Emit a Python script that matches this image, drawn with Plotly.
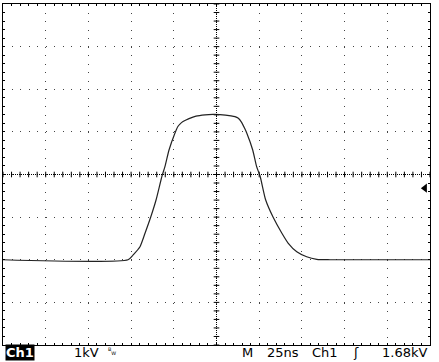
import numpy as np
import plotly.graph_objects as go

# Waveform (time in ns, voltage in kV, ground at 0 kV)
time_ns = [-125, -51.8, -48.9, -44.8, -41.8, -38.5, -35.4, -31.9, -30.2, -27.8,
           -24.3, -22.7, -21.4, -19.6, -16.1, -12.0, -6.7, -2.0, 2.0, 8.5,
           10.8, 12.6, 14.6, 16.4, 17.7, 21.2, 23.5, 25.5, 28.8, 33.1,
           38.2, 41.9, 47.0, 52.8, 58.7, 66.5, 125]
volt_kv = [0, 0, 0.11, 0.305, 0.627, 1.002, 1.401, 1.965, 2.183, 2.575,
           2.974, 3.120, 3.183, 3.242, 3.312, 3.371, 3.401, 3.410, 3.406, 3.376,
           3.357, 3.324, 3.230, 3.089, 2.974, 2.575, 2.183, 1.965, 1.401, 1.002,
           0.627, 0.392, 0.188, 0.07, 0.01, 0, 0]

# Scope settings
ns_per_div = 25
kv_per_div = 1
trigger_level_kv = 1.68
x_range = [-5 * ns_per_div, 5 * ns_per_div]
y_range = [-2 * kv_per_div, 6 * kv_per_div]
x_center = 0
y_center = 2

status_texts = ["1kV", "M", "25ns", "Ch1", "ʃ", f"{trigger_level_kv:.2f}kV"]

W, H = 439, 362
L, R, T, B = 3, 9, 4, 17
pw, ph = W - L - R, H - T - B

fig = go.Figure()

# center crosshair ticks
xt = np.arange(x_range[0], x_range[1] + 0.01, ns_per_div / 5)
yt = np.arange(y_range[0], y_range[1] + 0.001, kv_per_div / 5)
fig.add_trace(go.Scatter(x=xt, y=[y_center] * len(xt), mode="markers",
                         marker=dict(symbol="line-ns", size=4,
                                     line=dict(width=1, color="#000")),
                         hoverinfo="skip", showlegend=False))
fig.add_trace(go.Scatter(x=[x_center] * len(yt), y=yt, mode="markers",
                         marker=dict(symbol="line-ew", size=4,
                                     line=dict(width=1, color="#000")),
                         hoverinfo="skip", showlegend=False))

# waveform
fig.add_trace(go.Scatter(x=time_ns, y=volt_kv, mode="lines",
                         line=dict(color="#222", width=1.2, shape="spline",
                                   smoothing=0.6),
                         hoverinfo="skip", showlegend=False))

# trigger level marker
fig.add_trace(go.Scatter(x=[x_range[1] - 3], y=[trigger_level_kv], mode="markers",
                         marker=dict(symbol="triangle-left", size=8, color="#000"),
                         hoverinfo="skip", showlegend=False))

fig.add_shape(type="line", x0=x_center, x1=x_center, y0=y_range[0], y1=y_range[1],
              line=dict(color="#000", width=1, dash="1px,1px"))
fig.add_shape(type="line", x0=x_range[0], x1=x_range[1], y0=y_center, y1=y_center,
              line=dict(color="#000", width=1, dash="1px,1px"))

axis_common = dict(showline=True, linecolor="#000", linewidth=1, mirror="ticks",
                   showgrid=True, gridcolor="#444", gridwidth=1,
                   griddash="1px,7.53px", zeroline=False, showticklabels=False,
                   ticks="inside", ticklen=2, tickcolor="#000", tickwidth=1)

fig.update_xaxes(range=x_range, dtick=ns_per_div, tick0=0,
                 minor=dict(dtick=ns_per_div / 5, ticks="inside", ticklen=2,
                            tickcolor="#000", showgrid=False),
                 **axis_common)
fig.update_yaxes(range=y_range, dtick=kv_per_div, tick0=0,
                 minor=dict(dtick=kv_per_div / 5, ticks="inside", ticklen=2,
                            tickcolor="#000", showgrid=False),
                 **axis_common)

def px_x(px):
    return (px - L) / pw

def px_y(py):
    return (H - B - py) / ph

font = dict(family="DejaVu Sans", size=13, color="#000")
fig.add_annotation(text="<b>Ch1</b>", x=px_x(5), y=px_y(352), xref="paper", yref="paper",
                   xanchor="left", yanchor="middle", showarrow=False,
                   font=dict(family="DejaVu Sans", size=13, color="#fff"),
                   bgcolor="#000", borderpad=0)
positions = [72, 240, 265, 310, 351, 380]
for txt, px in zip(status_texts, positions):
    fig.add_annotation(text=txt, x=px_x(px), y=px_y(352), xref="paper", yref="paper",
                       xanchor="left", yanchor="middle", showarrow=False, font=font)
fig.add_annotation(text="<sup>B</sup><sub>W</sub>", x=px_x(106), y=px_y(351),
                   xref="paper", yref="paper", xanchor="left", yanchor="middle",
                   showarrow=False, font=dict(family="DejaVu Sans", size=7, color="#000"))

fig.update_layout(width=W, height=H, margin=dict(l=L, r=R, t=T, b=B),
                  paper_bgcolor="#fff", plot_bgcolor="#fff", showlegend=False)

fig.write_html("out.html")
